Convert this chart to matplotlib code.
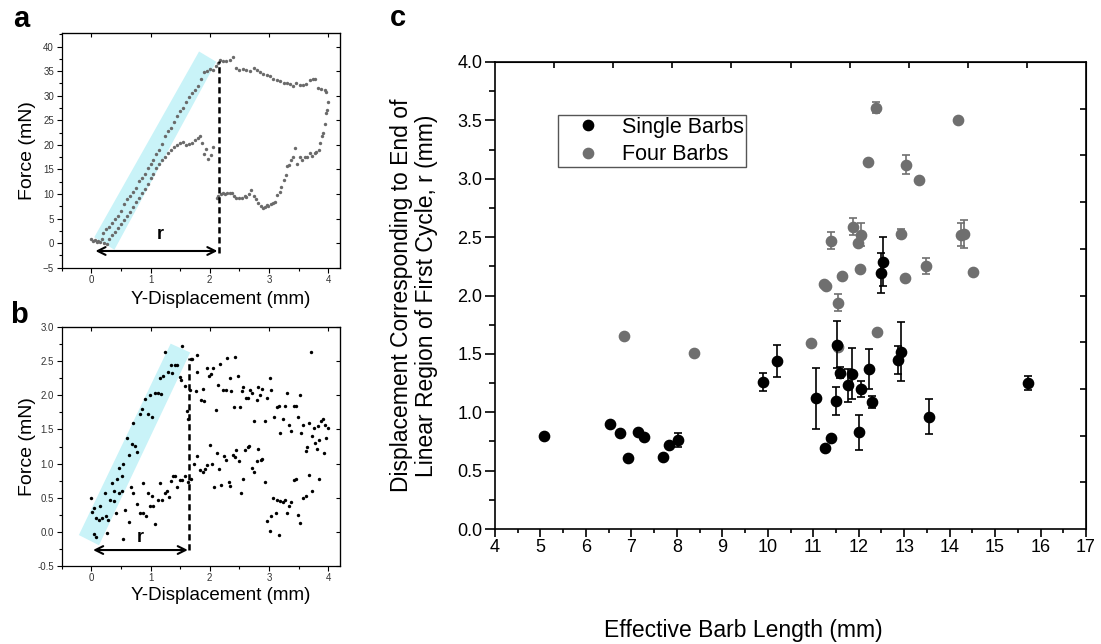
import matplotlib
matplotlib.use('Agg')
import matplotlib.pyplot as plt
from matplotlib.patches import Polygon
from matplotlib.lines import Line2D
from matplotlib.ticker import MultipleLocator, FormatStrFormatter, NullFormatter

plt.rcParams['font.family'] = ['Liberation Sans', 'DejaVu Sans']

# ---------------------------------------------------------------
#   D A T A
# ---------------------------------------------------------------
# panel a : force trace (mN) vs Y-displacement (mm)
a_x = [0.00, 0.03, 0.06, 0.09, 0.12, 0.15, 0.18, 0.22, 0.26,
       0.20, 0.25, 0.30, 0.35, 0.40, 0.45, 0.50, 0.55, 0.60, 0.65, 0.70, 0.75, 0.80, 0.85, 0.90, 0.95,
       1.00, 1.05, 1.10, 1.15, 1.20, 1.25, 1.30, 1.35, 1.40, 1.45, 1.50, 1.55, 1.60, 1.65, 1.70, 1.75,
       1.80, 1.85, 1.90, 1.95, 2.00, 2.05, 2.10, 2.14,
       0.30, 0.35, 0.40, 0.45, 0.50, 0.55, 0.60, 0.65, 0.70, 0.75, 0.80, 0.85, 0.90, 0.95, 1.00, 1.05,
       1.10, 1.15, 1.20, 1.25, 1.30, 1.35, 1.40, 1.45, 1.50, 1.55, 1.60, 1.65, 1.70, 1.75, 1.80, 1.84,
       1.87, 1.90, 1.93, 1.97, 2.02, 2.06,
       2.17, 2.22, 2.28, 2.34, 2.39, 2.45, 2.50, 2.56, 2.62, 2.68, 2.74, 2.79, 2.85, 2.90, 2.96, 3.02,
       3.07, 3.13, 3.19, 3.25, 3.30, 3.36, 3.41, 3.45, 3.52, 3.58, 3.63, 3.69, 3.74, 3.78, 3.83, 3.88,
       3.94, 3.97, 4.00,
       3.98, 3.96, 3.94, 3.91, 3.89, 3.87, 3.84, 3.80, 3.77, 3.73, 3.69, 3.65, 3.61, 3.56, 3.52, 3.47,
       3.44, 3.40, 3.38, 3.34, 3.31, 3.28, 3.25, 3.21, 3.18, 3.14, 3.10, 3.07, 3.03, 2.99, 2.96, 2.93,
       2.90, 2.86, 2.82, 2.78, 2.74, 2.70, 2.66, 2.62, 2.59, 2.55, 2.50, 2.45, 2.41, 2.37, 2.34, 2.30,
       2.26, 2.23, 2.19, 2.14, 2.12]
a_y = [0.8, 0.4, 0.6, 0.3, 0.5, 0.2, 0.9, 0.1, -0.1,
       2.0, 2.8, 3.2, 4.1, 5.0, 5.6, 6.6, 7.9, 8.9, 9.6, 10.4, 11.3, 12.6, 13.2, 14.1, 15.2,
       16.2, 17.0, 18.1, 19.0, 20.2, 21.9, 22.8, 23.5, 24.6, 25.9, 26.8, 27.4, 28.8, 29.7, 30.5, 31.2,
       32.0, 33.4, 34.8, 35.0, 35.5, 35.2, 36.0, 36.6,
       0.8, 1.6, 2.3, 3.1, 3.9, 4.8, 5.6, 6.4, 7.4, 8.3, 9.2, 10.2, 11.0, 12.1, 13.2, 14.1,
       15.2, 16.1, 16.9, 17.6, 18.4, 18.9, 19.6, 19.9, 20.3, 20.6, 20.0, 20.2, 20.3, 20.9, 21.3, 21.7,
       20.4, 18.2, 19.1, 17.1, 18.0, 19.6,
       37.2, 37.0, 37.1, 37.2, 37.8, 35.6, 35.2, 35.5, 35.3, 35.0, 35.6, 35.3, 34.8, 34.5, 34.2, 34.0,
       33.5, 33.2, 32.9, 32.6, 32.5, 32.3, 32.0, 32.6, 32.2, 32.1, 32.3, 33.2, 33.4, 33.3, 31.5, 31.4,
       31.2, 30.8, 28.8,
       27.0, 26.4, 24.3, 22.5, 21.7, 20.3, 19.0, 18.5, 18.4, 17.8, 18.3, 17.5, 17.6, 17.0, 17.6, 16.2,
       19.3, 17.5, 16.9, 15.8, 15.6, 13.8, 12.9, 11.5, 10.5, 9.8, 8.4, 8.1, 8.0, 7.6, 7.8, 7.3,
       7.1, 7.6, 8.1, 9.0, 9.6, 10.8, 9.9, 9.4, 9.5, 9.2, 9.1, 9.1, 9.6, 10.3, 10.2, 10.1,
       10.0, 10.3, 10.0, 9.5, 9.2]

# panel b : force trace (mN) vs Y-displacement (mm)
b_x = [0.00, 0.02, 0.04, 0.04, 0.08, 0.08, 0.13, 0.14, 0.18, 0.23, 0.24, 0.29, 0.32, 0.35, 0.38,
       0.39, 0.41, 0.43, 0.46, 0.47, 0.51, 0.52, 0.54, 0.60, 0.64, 0.68, 0.71, 0.74, 0.78, 0.82,
       0.85, 0.91, 0.95, 0.99, 1.03, 1.07, 1.12, 1.16, 1.18, 1.21, 1.25, 1.29, 1.34, 1.36, 1.41,
       1.45, 1.49, 1.52, 1.54, 1.58, 1.61, 1.64, 1.66, 1.68,
       0.26, 0.54, 0.57, 0.63, 0.67, 0.71, 0.77, 0.82, 0.87, 0.92, 0.87, 0.95, 0.99, 1.02, 1.04,
       1.08, 1.12, 1.16, 1.19, 1.24, 1.27, 1.31, 1.34, 1.38, 1.42, 1.45, 1.49, 1.54, 1.58, 1.63, 1.68,
       1.70, 1.77, 1.78, 1.79, 1.85, 1.88, 1.91, 1.96, 1.99, 2.02, 2.06, 2.10, 2.14, 2.18, 2.23,
       2.27, 2.29, 2.34, 2.36, 2.41, 2.43, 2.47, 2.51, 2.54, 2.57, 2.62, 2.64, 2.68, 2.71, 2.75,
       2.79, 2.82, 2.85, 2.89, 2.93, 2.96, 3.01, 3.04, 3.08, 3.13, 3.17, 3.19, 3.23, 3.27, 3.31,
       3.34, 3.38, 3.42, 3.45, 3.49, 3.52, 3.54, 3.58, 3.62, 3.64, 3.67, 3.71, 3.73, 3.76, 3.78,
       3.81, 3.83, 3.85, 3.88, 3.91, 3.93, 3.95, 3.97, 3.99,
       1.74, 1.79, 1.84, 1.88, 1.92, 1.95, 2.01, 2.04, 2.08, 2.12, 2.16, 2.19, 2.24, 2.28, 2.32,
       2.35, 2.39, 2.42, 2.45, 2.49, 2.53, 2.56, 2.60, 2.64, 2.67, 2.71, 2.74, 2.79, 2.82, 2.86,
       2.89, 2.93, 2.96, 3.01, 3.04, 3.07, 3.12, 3.14, 3.17, 3.19, 3.23, 3.27, 3.31, 3.34, 3.38,
       3.42, 3.45, 3.49, 3.53, 3.57, 3.63, 3.67, 3.73, 3.85]
b_y = [0.50, 0.29, 0.34, -0.04, -0.08, 0.20, 0.17, 0.37, 0.20, 0.57, 0.23, 0.17, 0.47, 0.71, 0.60,
       0.45, 0.28, 0.77, 0.57, 0.94, 0.60, 0.81, 1.00, 1.37, 1.12, 1.29, 1.60, 1.26, 1.17, 1.72,
       1.80, 1.95, 1.72, 2.00, 1.69, 2.04, 2.04, 2.25, 2.02, 2.28, 2.64, 2.35, 2.45, 2.33, 2.45,
       2.45, 2.27, 2.23, 2.73, 2.14, 1.77, 1.65, 2.08, 2.53,
       -0.02, -0.11, 0.32, 0.14, 0.65, 0.56, 0.41, 0.27, 0.27, 0.23, 0.71, 0.57, 0.37, 0.52, 0.37,
       0.11, 0.47, 0.71, 0.47, 0.57, 0.60, 0.51, 0.75, 0.81, 0.81, 0.65, 0.76, 0.76, 0.81, 0.73, 0.77,
       2.53, 2.06, 2.35, 2.59, 1.93, 2.10, 1.92, 2.40, 2.29, 2.32, 2.40, 1.79, 2.15, 2.46, 2.08,
       2.08, 2.55, 2.25, 2.06, 1.83, 2.57, 2.29, 1.83, 2.06, 2.12, 1.96, 1.96, 2.08, 2.03, 1.63,
       1.93, 2.12, 2.01, 2.10, 1.63, 1.96, 2.26, 2.08, 1.69, 1.83, 1.85, 1.45, 1.66, 1.85, 2.03,
       1.57, 1.48, 1.85, 1.85, 1.68, 2.01, 1.45, 1.57, 1.18, 1.25, 1.60, 2.64, 1.40, 1.52, 1.30,
       1.22, 1.55, 1.35, 1.62, 1.66, 1.15, 1.57, 1.37, 1.52,
       0.99, 1.11, 0.91, 0.88, 0.92, 0.98, 1.27, 1.00, 0.66, 1.15, 0.92, 0.69, 1.11, 1.05, 0.73,
       0.67, 1.13, 1.10, 1.20, 1.03, 0.57, 0.77, 1.20, 1.25, 1.26, 0.93, 0.88, 1.03, 1.22, 1.05,
       1.06, 0.73, 0.15, 0.01, 0.23, 0.50, 0.27, 0.47, -0.05, 0.45, 0.44, 0.47, 0.27, 0.38, 0.44,
       0.76, 0.78, 0.24, 0.12, 0.49, 0.52, 0.83, 0.60, 0.78]

# panel c : single barbs
single_len = [5.07, 6.52, 6.75, 6.92, 7.15, 7.28, 7.70, 7.82, 8.03, 9.90, 10.20, 11.07, 11.26,
              11.40, 11.52, 11.50, 11.58, 11.76, 11.86, 12.05, 12.01, 12.22, 12.30, 12.50, 12.53,
              12.87, 12.94, 13.55, 15.73]
single_r = [0.80, 0.90, 0.82, 0.61, 0.83, 0.79, 0.62, 0.72, 0.76, 1.26, 1.44, 1.12, 0.69,
            0.78, 1.58, 1.10, 1.34, 1.23, 1.33, 1.20, 0.83, 1.37, 1.09, 2.19, 2.29,
            1.45, 1.52, 0.96, 1.25]
single_err = [0.0, 0.0, 0.0, 0.0, 0.0, 0.0, 0.0, 0.0, 0.06, 0.08, 0.14, 0.26, 0.0,
              0.0, 0.20, 0.12, 0.05, 0.14, 0.22, 0.07, 0.15, 0.17, 0.05, 0.17, 0.21,
              0.12, 0.25, 0.15, 0.06]

# panel c : four barbs
four_len = [6.83, 8.37, 10.95, 11.54, 11.23, 11.29, 11.38, 11.54, 11.64, 11.88, 11.98, 12.04,
            12.03, 12.21, 12.39, 12.41, 12.92, 13.03, 13.02, 13.32, 13.47, 14.18, 14.26, 14.31, 14.51]
four_r = [1.65, 1.51, 1.59, 1.56, 2.10, 2.08, 2.47, 1.94, 2.17, 2.59, 2.45, 2.52,
          2.23, 3.14, 3.61, 1.69, 2.53, 3.12, 2.15, 2.99, 2.25, 3.50, 2.52, 2.53, 2.20]
four_err = [0.0, 0.0, 0.0, 0.03, 0.0, 0.0, 0.07, 0.07, 0.0, 0.07, 0.0, 0.10,
            0.0, 0.0, 0.05, 0.0, 0.04, 0.08, 0.0, 0.0, 0.07, 0.0, 0.10, 0.12, 0.0]

# ---------------------------------------------------------------
#   P L O T
# ---------------------------------------------------------------
W, H = 1101, 644
fig = plt.figure(figsize=(W / 100, H / 100), dpi=100)

def px_axes(l, t, r, b):
    return fig.add_axes([l / W, 1 - b / H, (r - l) / W, (b - t) / H])

band = '#c9f3f8'

def small_panel(ax, xs, ys, ylim, ymaj, ymin, dotcol):
    ax.scatter(xs, ys, s=6, color=dotcol, lw=0, zorder=3)
    ax.set_xlim(-0.5, 4.2)
    ax.set_ylim(*ylim)
    ax.xaxis.set_major_locator(MultipleLocator(1))
    ax.xaxis.set_minor_locator(MultipleLocator(0.5))
    ax.yaxis.set_major_locator(MultipleLocator(ymaj))
    ax.yaxis.set_minor_locator(MultipleLocator(ymin))
    ax.tick_params(which='both', direction='out', labelsize=7, labelcolor='#333333',
                   width=0.8, pad=2)
    ax.tick_params(which='major', length=3.5)
    ax.tick_params(which='minor', length=2)
    top = ax.secondary_xaxis('top')
    top.xaxis.set_major_locator(MultipleLocator(1))
    top.xaxis.set_major_formatter(NullFormatter())
    top.tick_params(direction='in', length=3, width=0.8)
    right = ax.secondary_yaxis('right')
    right.yaxis.set_major_locator(MultipleLocator(ymaj))
    right.yaxis.set_major_formatter(NullFormatter())
    right.tick_params(direction='in', length=3, width=0.8)
    for s in ax.spines.values():
        s.set_linewidth(0.9)
    ax.set_ylabel('Force (mN)', fontsize=14, va='center')
    ax.set_xlabel('Y-Displacement (mm)', fontsize=13.5, va='center')
    ax.yaxis.set_label_coords(-(61.7 - 27) / 278.3, 0.5)

# ---- panel a
ax_a = px_axes(61.7, 33.3, 340, 267.7)
ax_a.add_patch(Polygon([(0.05, 1.2), (0.39, -1.35), (2.11, 36.9), (1.82, 39.0)],
                       closed=True, color=band, lw=0, zorder=1))
small_panel(ax_a, a_x, a_y, (-5, 42.7), 5, 2.5, '#6a6a6a')
ax_a.plot([2.15, 2.15], [-2.0, 37.0], color='black', ls=(0, (2.5, 1.5)), lw=1.8, zorder=4)
ax_a.annotate('', xy=(0.07, -1.6), xytext=(2.13, -1.6),
              arrowprops=dict(arrowstyle='<->', lw=1.5, color='black', mutation_scale=14,
                              shrinkA=0, shrinkB=0), zorder=4)
ax_a.text(1.16, 1.7, 'r', fontsize=13, fontweight='bold', ha='center', va='center')
ax_a.xaxis.set_label_coords(0.57, -(299 - 267.7) / 234.4)

# ---- panel b
ax_b = px_axes(61.7, 327.3, 340, 565.7)
ax_b.add_patch(Polygon([(-0.21, -0.05), (0.13, -0.2), (1.67, 2.63), (1.34, 2.76)],
                       closed=True, color=band, lw=0, zorder=1))
small_panel(ax_b, b_x, b_y, (-0.5, 3.0), 0.5, 0.25, 'black')
ax_b.yaxis.set_major_formatter(FormatStrFormatter('%.1f'))
ax_b.plot([1.65, 1.65], [-0.27, 2.55], color='black', ls=(0, (2.5, 1.5)), lw=1.8, zorder=4)
ax_b.annotate('', xy=(0.03, -0.27), xytext=(1.63, -0.27),
              arrowprops=dict(arrowstyle='<->', lw=1.5, color='black', mutation_scale=14,
                              shrinkA=0, shrinkB=0), zorder=4)
ax_b.text(0.83, -0.09, 'r', fontsize=13, fontweight='bold', ha='center', va='center')
ax_b.xaxis.set_label_coords(0.57, -(595 - 565.7) / 238.4)

# ---- panel c
ax = px_axes(495, 62, 1086, 529)
grey = '#6f6f6f'
ax.errorbar(single_len, single_r, yerr=single_err, fmt='o', color='black', ms=7.4,
            capsize=2.6, elinewidth=1.2, capthick=1.2, zorder=3)
ax.errorbar(four_len, four_r, yerr=four_err, fmt='o', color=grey, ms=7.4,
            capsize=2.6, elinewidth=1.2, capthick=1.2, zorder=2)
ax.set_xlim(4, 17)
ax.set_ylim(0, 4)
ax.xaxis.set_major_locator(MultipleLocator(1))
ax.xaxis.set_minor_locator(MultipleLocator(0.5))
ax.yaxis.set_major_locator(MultipleLocator(0.5))
ax.yaxis.set_minor_locator(MultipleLocator(0.25))
ax.yaxis.set_major_formatter(FormatStrFormatter('%.1f'))
ax.tick_params(which='both', direction='out', labelsize=13, width=1.2, pad=2)
ax.tick_params(axis='y', which='major', length=7)
ax.tick_params(axis='y', which='minor', length=4)
ax.tick_params(axis='x', which='major', length=5.5)
ax.tick_params(axis='x', which='minor', length=3)
for s in ax.spines.values():
    s.set_linewidth(1.2)

top = ax.secondary_xaxis('top', functions=(lambda x: (x - 4) / 1.3, lambda u: u * 1.3 + 4))
top.set_xticks(range(1, 10))
top.xaxis.set_major_formatter(NullFormatter())
top.tick_params(direction='in', length=4, width=1.2)
right = ax.secondary_yaxis('right', functions=(lambda y: y / 0.4, lambda u: u * 0.4))
right.set_yticks(range(1, 10))
right.yaxis.set_major_formatter(NullFormatter())
right.tick_params(direction='in', length=4, width=1.2)

handles = [Line2D([], [], ls='', marker='o', color='black', ms=7.4),
           Line2D([], [], ls='', marker='o', color=grey, ms=7.4)]
leg = ax.legend(handles, ['Single Barbs', 'Four Barbs'], loc='upper left',
                bbox_to_anchor=(0.1066, 0.8865), borderaxespad=0, fancybox=False,
                edgecolor='#555555', framealpha=1, fontsize=15.5, handlelength=2.6,
                handletextpad=0.3, borderpad=0.08, labelspacing=0.3)
leg.get_frame().set_linewidth(1.0)

ax.set_xlabel('Effective Barb Length (mm)', fontsize=16.5)
ax.xaxis.set_label_coords((743 - 495) / 591, -(630 - 529) / 467)
ax.xaxis.label.set_va('center')
ax.set_ylabel('Displacement Corresponding to End of\nLinear Region of First Cycle, r (mm)',
              fontsize=16.5, linespacing=1.15)
ax.yaxis.set_label_coords(-(495 - 414) / 591, 0.5)
ax.yaxis.label.set_va('center')

# panel letters
fig.text(21 / W, 1 - 27 / H, 'a', fontsize=21, fontweight='bold', ha='center', va='baseline')
fig.text(19 / W, 1 - 323 / H, 'b', fontsize=21, fontweight='bold', ha='center', va='baseline')
fig.text(398 / W, 1 - 26 / H, 'c', fontsize=21, fontweight='bold', ha='center', va='baseline')

fig.savefig('out.png', dpi=100)
